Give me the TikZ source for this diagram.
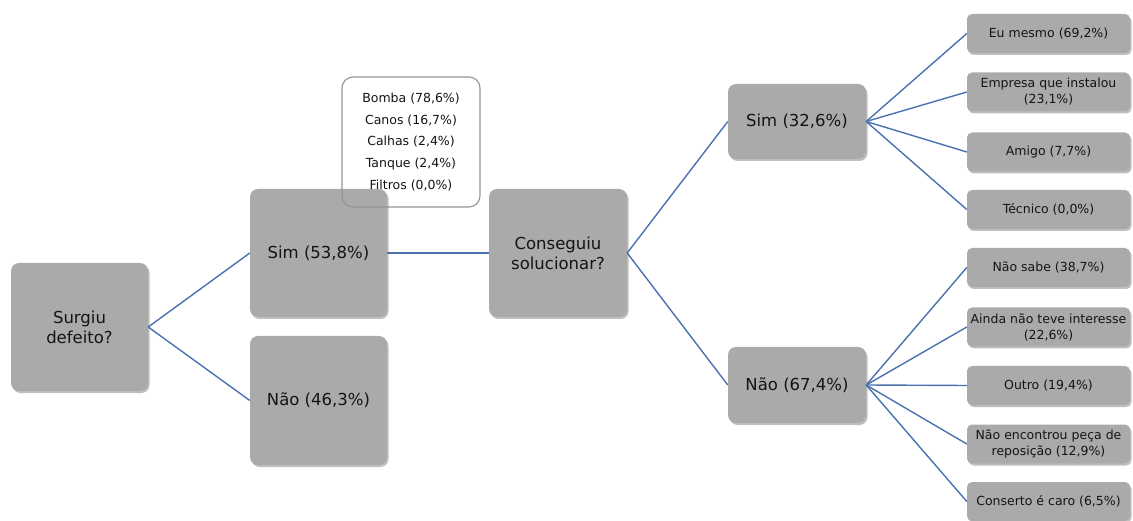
\documentclass[tikz,border=0pt]{standalone}
\usepackage{fontspec}
\setmainfont{DejaVu Sans}
\usetikzlibrary{shadows}
\definecolor{boxgray}{RGB}{170,170,170}
\definecolor{linkblue}{RGB}{74,114,176}
\definecolor{txt}{RGB}{20,20,20}
\begin{document}
\begin{tikzpicture}[x=1pt,y=-1pt,
  shade/.style={drop shadow={shadow xshift=1.5pt,shadow yshift=-2pt,opacity=0.25,fill=black}},
  bigbox/.style={shade,fill=boxgray,rounded corners=8pt,inner sep=0pt,align=center,
    text=txt,font=\fontsize{16.5}{20}\selectfont},
  smallbox/.style={shade,fill=boxgray,rounded corners=5pt,inner sep=0pt,align=center,
    text=txt,font=\fontsize{12.5}{16}\selectfont,minimum width=163pt,minimum height=39pt},
  callout/.style={draw=gray!85,line width=1.1pt,rounded corners=11pt,inner sep=0pt,align=center,
    text=txt,font=\fontsize{12.5}{21.7}\selectfont,minimum width=138pt,minimum height=130pt},
  link/.style={draw=linkblue,line width=1.4pt}]
\useasboundingbox (0,0) rectangle (1133,521);
% level 1
\node[bigbox,minimum width=137pt,minimum height=128pt] (surgiu) at (79.5,327) {Surgiu\\defeito?};
\node[bigbox,minimum width=137pt,minimum height=128pt] (sim1) at (318.5,253) {Sim (53,8\%)};
\node[bigbox,minimum width=137pt,minimum height=129pt] (nao1) at (318.5,400.5) {Não (46,3\%)};
\node[bigbox,minimum width=138pt,minimum height=128pt] (cons) at (558,253) {Conseguiu\\solucionar?};
\node[bigbox,minimum width=138pt,minimum height=75pt] (sim2) at (797,121.5) {Sim (32,6\%)};
\node[bigbox,minimum width=138pt,minimum height=76pt] (nao2) at (797,385) {Não (67,4\%)};
% right column
\node[smallbox] (a1) at (1048.5,33.5) {Eu mesmo (69,2\%)};
\node[smallbox] (a2) at (1048.5,92) {Empresa que instalou\\(23,1\%)};
\node[smallbox] (a3) at (1048.5,152) {Amigo (7,7\%)};
\node[smallbox] (a4) at (1048.5,209.5) {Técnico (0,0\%)};
\node[smallbox] (b1) at (1048.5,267.5) {Não sabe (38,7\%)};
\node[smallbox] (b2) at (1048.5,327) {Ainda não teve interesse\\(22,6\%)};
\node[smallbox] (b3) at (1048.5,385.5) {Outro (19,4\%)};
\node[smallbox] (b4) at (1048.5,444) {Não encontrou peça de\\reposição (12,9\%)};
\node[smallbox] (b5) at (1048.5,501.5) {Conserto é caro (6,5\%)};
% callout
\node[callout] (list) at (411,142) {Bomba (78,6\%)\\Canos (16,7\%)\\Calhas (2,4\%)\\Tanque (2,4\%)\\Filtros (0,0\%)};
% connectors
\draw[link] (surgiu.east) -- (sim1.west);
\draw[link] (surgiu.east) -- (nao1.west);
\draw[link] (sim1.east) -- (cons.west);
\draw[link] (cons.east) -- (sim2.west);
\draw[link] (cons.east) -- (nao2.west);
\foreach \n in {a1,a2,a3,a4} \draw[link] (sim2.east) -- (\n.west);
\foreach \n in {b1,b2,b3,b4,b5} \draw[link] (nao2.east) -- (\n.west);
\end{tikzpicture}
\end{document}
